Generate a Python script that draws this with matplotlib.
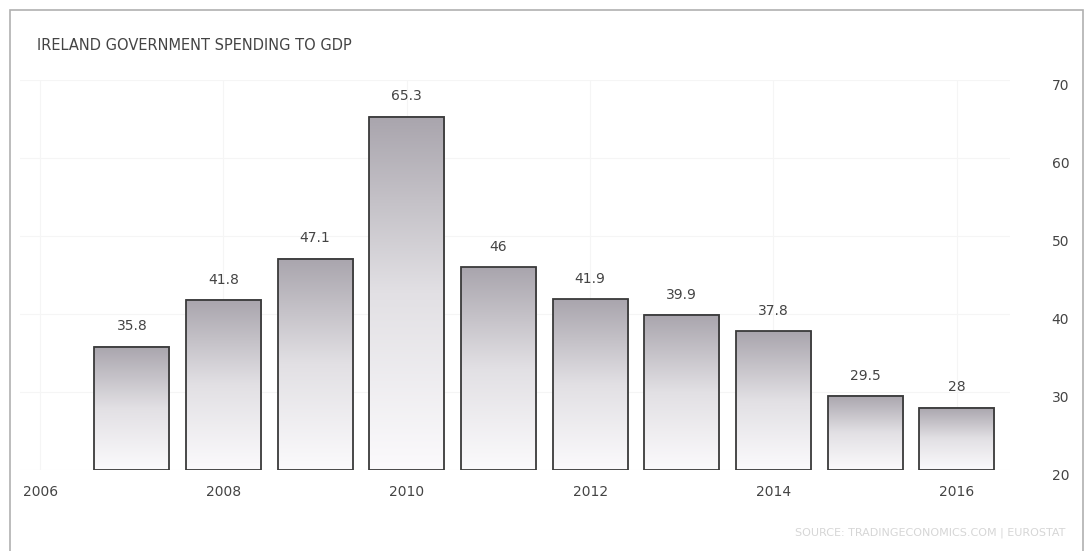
import numpy as np
import matplotlib
matplotlib.use("Agg")
import matplotlib.pyplot as plt
import matplotlib.transforms as mtransforms
from matplotlib.patches import Rectangle
from matplotlib.colors import LinearSegmentedColormap

# ── Données ─────────────────────────────────────────
years = [2007, 2008, 2009, 2010, 2011, 2012, 2013, 2014, 2015, 2016]
values = [35.8, 41.8, 47.1, 65.3, 46.0, 41.9, 39.9, 37.8, 29.5, 28.0]
labels = ["35.8", "41.8", "47.1", "65.3", "46", "41.9", "39.9", "37.8", "29.5", "28"]
xticks = [2006, 2008, 2010, 2012, 2014, 2016]
yticks = [20, 30, 40, 50, 60, 70]

title = "IRELAND GOVERNMENT SPENDING TO GDP"
source = "SOURCE: TRADINGECONOMICS.COM | EUROSTAT"

# ── Figure ─────────────────────────────────────────
fig = plt.figure(figsize=(10.9, 5.51), dpi=100)
fig.patch.set_facecolor("white")
fig.patches.append(Rectangle((10 / 1090, -0.02), 1073 / 1090, 1.02 - 10 / 551,
                             transform=fig.transFigure, fill=False,
                             edgecolor="#b0b0b0", linewidth=1.2))

ax = fig.add_axes([20 / 1090, 1 - 470 / 551, 990 / 1090, (470 - 80) / 551])

cmap = LinearSegmentedColormap.from_list("bargrad", ["#fbfafc", "#e2e0e4", "#a9a5ad"])
grad = np.linspace(0, 1, 256).reshape(-1, 1)
width = 0.82
for yr, v, lab in zip(years, values, labels):
    x0 = yr - width / 2
    ax.imshow(grad, extent=(x0, x0 + width, 20, v), origin="lower",
              cmap=cmap, aspect="auto", zorder=2)
    ax.add_patch(Rectangle((x0, 20), width, v - 20, fill=False,
                           edgecolor="#3a3a3a", linewidth=1.3, zorder=3))
    ax.text(yr, v + 1.7, lab, ha="center", va="bottom", fontsize=10,
            color="#444444", zorder=4)

ax.set_xlim(2005.78, 2016.58)
ax.set_ylim(20, 70)
ax.grid(True, color="#f5f5f5", linewidth=0.8, zorder=0)
ax.set_axisbelow(True)

ax.set_xticks(xticks)
ax.set_xticklabels([str(t) for t in xticks])
ax.set_yticks(yticks)
ax.yaxis.tick_right()
ax.tick_params(axis="both", length=0, labelsize=10, labelcolor="#444444")
ax.tick_params(axis="x", pad=11)
ax.tick_params(axis="y", pad=30)
# étiquettes Y légèrement sous les lignes
shift = mtransforms.ScaledTranslation(0, -5 / 100, fig.dpi_scale_trans)
for lbl in ax.get_yticklabels():
    lbl.set_transform(lbl.get_transform() + shift)
for s in ax.spines.values():
    s.set_visible(False)

fig.text(37 / 1090, 1 - 45 / 551, title, fontsize=10.5, color="#444444",
         ha="left", va="center")
fig.text(1065 / 1090, 1 - 533 / 551, source, fontsize=8, color="#d6d6d6",
         ha="right", va="center")

fig.savefig("out.png", dpi=100)
